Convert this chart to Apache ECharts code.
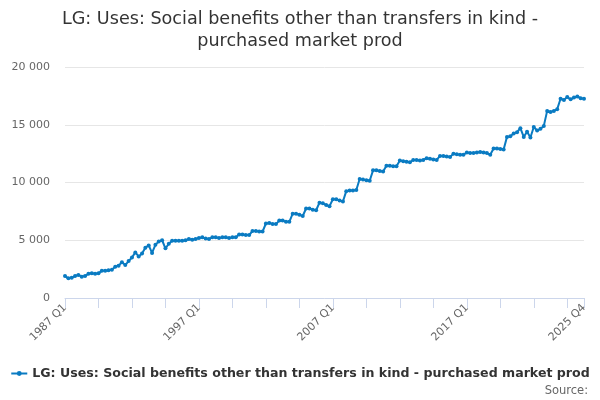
<!DOCTYPE html>
<html><head><meta charset="utf-8">
<script src="https://cdn.jsdelivr.net/npm/echarts@6/dist/echarts.min.js"></script>
<style>html,body{margin:0;padding:0;background:#fff}#c{width:600px;height:400px}</style>
</head><body><div id="c"></div>
<script>
var titleText = 'LG: Uses: Social benefits other than transfers in kind -\npurchased market prod';
var seriesName = 'LG: Uses: Social benefits other than transfers in kind - purchased market prod';
var startYear = 1987, endYear = 2025;
var categories = [];
for (var y = startYear; y <= endYear; y++) { for (var q = 1; q <= 4; q++) categories.push(y + ' Q' + q); }
var values = [
 1900,1700,1750,1900,2000,1850,1900,2100,2150,2100,
 2150,2350,2350,2400,2450,2700,2800,3100,2850,3200,
 3500,3950,3600,3850,4350,4550,3900,4600,4900,5000,
 4300,4700,4950,4950,4950,4950,5000,5100,5050,5100,
 5200,5250,5150,5100,5250,5250,5200,5250,5250,5200,
 5250,5250,5500,5500,5450,5450,5800,5800,5750,5750,
 6450,6500,6400,6400,6700,6700,6600,6600,7300,7300,
 7200,7100,7750,7750,7650,7600,8250,8200,8050,7950,
 8550,8550,8450,8350,9250,9300,9300,9350,10300,10250,
 10200,10150,11050,11050,11000,10950,11450,11450,11400,11400,
 11900,11850,11800,11750,11950,11950,11900,11950,12100,12050,
 12000,11950,12300,12300,12250,12200,12500,12450,12400,12400,
 12600,12550,12550,12600,12650,12600,12550,12400,12950,12950,
 12900,12850,13950,14000,14250,14350,14700,13950,14400,13900,
 14800,14500,14650,14900,16200,16100,16200,16350,17250,17150,
 17400,17200,17350,17450,17300,17250
];
var yMin = 0, yMax = 20000, yInterval = 5000;
var lastIdx = categories.length - 1;
var chart = echarts.init(document.getElementById('c'));
chart.setOption({
  animation: false,
  textStyle: { fontFamily: 'DejaVu Sans' },
  title: {
    text: titleText, left: 'center', top: 3,
    textStyle: { fontSize: 17.6, fontWeight: 'normal', color: '#333', lineHeight: 22, fontFamily: 'DejaVu Sans' }
  },
  graphic: [{
    type: 'text', right: 12, top: 385,
    style: { text: 'Source:', fill: '#666', fontSize: 11.5, fontFamily: 'DejaVu Sans' }
  }],
  legend: {
    bottom: 15, left: 'center', itemWidth: 16, itemHeight: 6, itemGap: 5,
    textStyle: { fontSize: 12.6, fontWeight: 'bold', color: '#333', fontFamily: 'DejaVu Sans' },
    data: [seriesName]
  },
  grid: { left: 65, right: 16, top: 67, bottom: 102, containLabel: false },
  xAxis: {
    type: 'category', data: categories, boundaryGap: false,
    axisLine: { lineStyle: { color: '#ccd6eb' } },
    axisTick: { length: 10, lineStyle: { color: '#ccd6eb' },
      interval: function (i) { return i % 10 === 0 || i === lastIdx; } },
    axisLabel: { rotate: 45, color: '#666', fontSize: 11, margin: 8,
      interval: function (i) { return i % 40 === 0 || i === lastIdx; } },
    splitLine: { show: false }
  },
  yAxis: {
    type: 'value', min: yMin, max: yMax, interval: yInterval,
    axisLine: { show: false }, axisTick: { show: false },
    axisLabel: { color: '#666', fontSize: 11, margin: 15,
      formatter: function (v) { return String(v).replace(/\B(?=(\d{3})+(?!\d))/g, ' '); } },
    splitLine: { lineStyle: { color: '#e6e6e6' } }
  },
  series: [{
    name: seriesName, type: 'line', data: values,
    color: '#0a7bc2',
    lineStyle: { width: 2 },
    symbol: 'circle', symbolSize: 4, showSymbol: true, showAllSymbol: true
  }]
});
</script></body></html>
